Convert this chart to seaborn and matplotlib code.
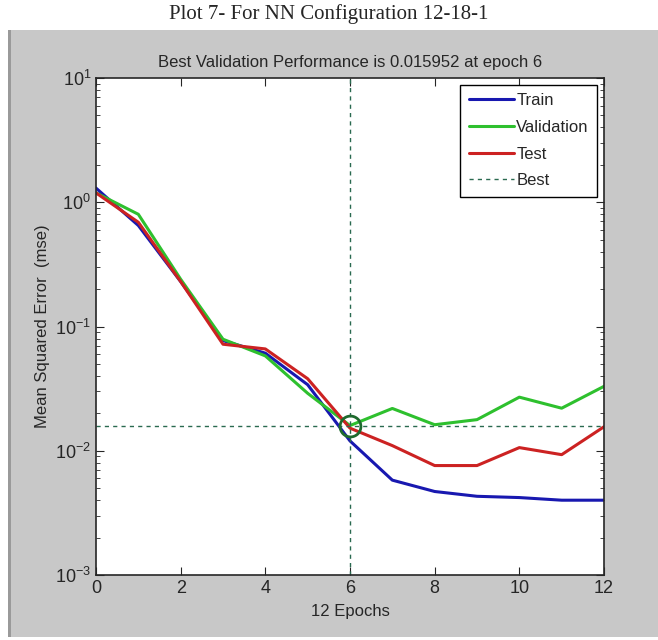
import numpy as np
import pandas as pd
import matplotlib
matplotlib.use("Agg")
import matplotlib.pyplot as plt
import seaborn as sns
from matplotlib.patches import Rectangle
from matplotlib.lines import Line2D

# values (mse per epoch, log scale)
epochs = list(range(13))
train = [1.3, 0.65, 0.23, 0.077, 0.061, 0.034, 0.012, 0.0058, 0.0047, 0.0043, 0.0042, 0.0040, 0.0040]
validation = [1.19, 0.8, 0.24, 0.079, 0.058, 0.029, 0.015952, 0.0219, 0.0162, 0.0178, 0.027, 0.022, 0.033]
test = [1.19, 0.69, 0.23, 0.072, 0.066, 0.038, 0.0152, 0.011, 0.0076, 0.0076, 0.0106, 0.0093, 0.0156]
series_names = ["Train", "Validation", "Test"]
best_epoch = 6
best_perf = 0.015952

colors = {"Train": "#1818b0", "Validation": "#2ec02e", "Test": "#cc2222"}
best_color = "#2a6a50"

df = pd.DataFrame({
    "epoch": epochs * 3,
    "mse": train + validation + test,
    "series": [s for s in series_names for _ in epochs],
})

sns.set_style("ticks")
plt.rcParams["font.family"] = ["Liberation Sans Narrow", "Liberation Sans", "DejaVu Sans"]

fig = plt.figure(figsize=(6.58, 6.40), dpi=100)
fig.patch.set_facecolor("white")
# gray matlab-like panel under the outer caption
fig.patches.append(Rectangle((8 / 658, 3 / 640), 650 / 658, 607 / 640,
                             transform=fig.transFigure, facecolor="#c8c8c8",
                             edgecolor="none", zorder=-10))
fig.patches.append(Rectangle((8 / 658, 3 / 640), 3 / 658, 607 / 640,
                             transform=fig.transFigure, facecolor="#9a9a9a",
                             edgecolor="none", zorder=-10))

ax = fig.add_axes([96 / 658, 65 / 640, 508 / 658, 497 / 640])
ax.set_facecolor("white")

sns.lineplot(data=df, x="epoch", y="mse", hue="series", palette=colors,
             linewidth=2.2, ax=ax, legend=False)

ax.axvline(best_epoch, color=best_color, linestyle=(0, (3, 3)), linewidth=1)
ax.axhline(best_perf, color=best_color, linestyle=(0, (3, 3)), linewidth=1)
ax.plot([best_epoch], [best_perf], marker="o", markersize=15, markerfacecolor="none",
        markeredgecolor="#1e6a2e", markeredgewidth=2)

ax.set_yscale("log")
ax.set_xlim(0, 12)
ax.set_ylim(1e-3, 10)
ax.set_xticks([0, 2, 4, 6, 8, 10, 12])
ax.set_yticks([1e-3, 1e-2, 1e-1, 1e0, 1e1])
ax.tick_params(which="both", direction="in", top=True, right=True, labelsize=13)
ax.tick_params(which="major", length=6)
ax.tick_params(which="minor", length=3)
for s in ax.spines.values():
    s.set_linewidth(1.2)

ax.set_xlabel("12 Epochs", fontsize=12, labelpad=5)
ax.set_ylabel("Mean Squared Error  (mse)", fontsize=12, labelpad=4)
ax.set_title("Best Validation Performance is 0.015952 at epoch 6", fontsize=12, pad=8)

handles = [Line2D([], [], color=colors[s], linewidth=2.2) for s in series_names]
handles.append(Line2D([], [], color=best_color, linestyle=(0, (3, 3)), linewidth=1))
leg = ax.legend(handles, series_names + ["Best"], loc="upper right",
                bbox_to_anchor=(1 - 7 / 508, 1 - 7 / 497), borderaxespad=0,
                fontsize=12, frameon=True, fancybox=False, framealpha=1,
                handlelength=2.7, handletextpad=0.15, labelspacing=0.7, borderpad=0.5)
leg.get_frame().set_edgecolor("black")
leg.get_frame().set_linewidth(1)

fig.text(0.5, 1 - 14 / 640, "Plot 7- For NN Configuration 12-18-1", ha="center", va="center",
         fontsize=15, family=["Liberation Serif", "DejaVu Serif"])

fig.savefig("out.png", dpi=100, facecolor="white")
